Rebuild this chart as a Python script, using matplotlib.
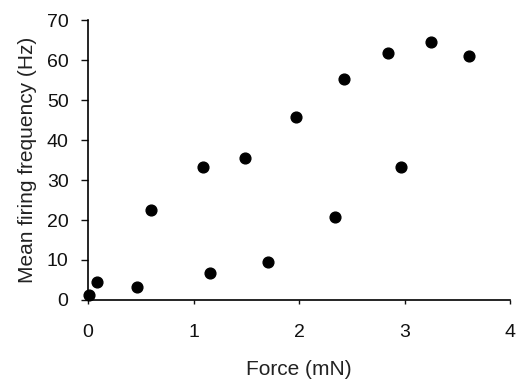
import matplotlib.pyplot as plt

plt.rcParams["font.family"] = ["Liberation Sans", "DejaVu Sans"]

force = [0.01, 0.085, 0.46, 0.60, 1.16, 1.71, 2.34, 1.09, 1.49, 1.97, 2.43, 2.84, 3.25, 3.61, 2.97]
freq = [1.3, 4.5, 3.3, 22.5, 6.8, 9.6, 20.8, 33.3, 35.5, 45.8, 55.3, 61.8, 64.5, 61.0, 33.3]

x_ticks = [0, 1, 2, 3, 4]
y_ticks = [0, 10, 20, 30, 40, 50, 60, 70]

fig = plt.figure(figsize=(5.19, 3.81), dpi=100)
ax = fig.add_axes([0.1696, 0.2126, 0.8131, 0.7349])
ax.scatter(force, freq, s=60, color="black", zorder=3, clip_on=False)

ax.set_xlim(0, 4)
ax.set_ylim(0, 70)
ax.set_xticks(x_ticks)
ax.set_yticks(y_ticks)
ax.spines["top"].set_visible(False)
ax.spines["right"].set_visible(False)
ax.spines["left"].set_linewidth(1.2)
ax.spines["bottom"].set_linewidth(1.2)
ax.tick_params(axis="y", direction="out", length=5, width=1, labelsize=14, pad=9, colors="#111111")
ax.tick_params(axis="x", direction="out", length=3, width=1, labelsize=14, pad=14, colors="#111111")
ax.set_xlabel("Force (mN)", fontsize=15, labelpad=14, color="#222222")
ax.set_ylabel("Mean firing frequency (Hz)", fontsize=15, labelpad=7, color="#222222")

fig.savefig("out.png", dpi=100)
